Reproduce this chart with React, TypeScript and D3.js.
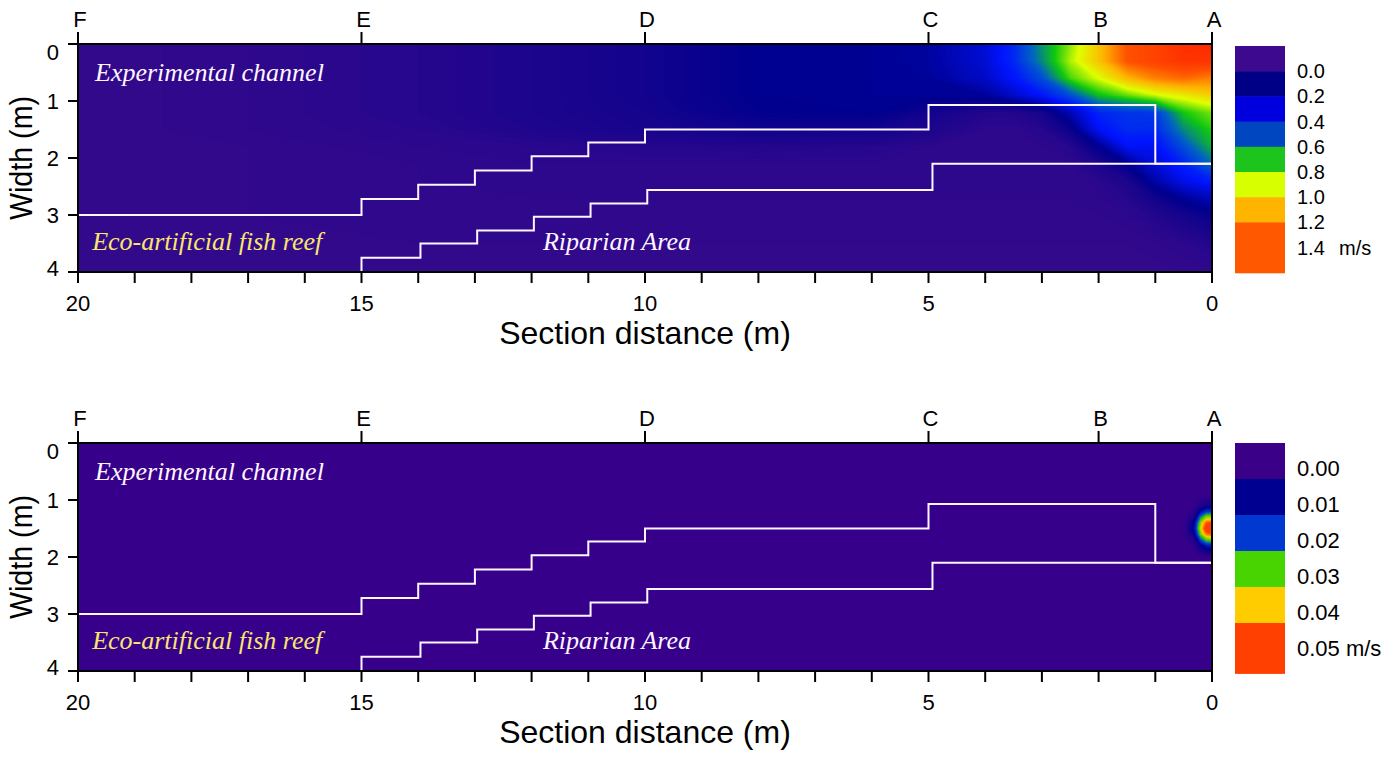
import React, { useMemo } from 'react';
import * as d3 from 'd3';

const WIDTH = 1393;
const HEIGHT = 767;
const PLOT_LEFT = 78;
const PLOT_RIGHT = 1212;
const PLOT_H = 228;
const SANS = 'Arial, "Liberation Sans", sans-serif';
const SERIF = '"Liberation Serif", "Times New Roman", serif';

// axes
const distTicks = [0, 1, 2, 3, 4, 5, 6, 7, 8, 9, 10, 11, 12, 13, 14, 15, 16, 17, 18, 19, 20];
const distLabels = [20, 15, 10, 5, 0];
const widthTicks = [0, 1, 2, 3, 4];
const sectionNames = ['F', 'E', 'D', 'C', 'B', 'A'];
const sectionDist = [20, 15, 10, 5, 2, 0];

// boundaries [distance, width], drawn as steps
const reefEdge: [number, number][] = [
  [20, 3.0], [15, 2.72], [14, 2.47], [13, 2.22], [12, 1.97], [11, 1.73],
  [10, 1.5], [5, 1.07], [1, 2.1], [0, 2.1],
];
const riparianEdge: [number, number][] = [
  [15, 4.0], [15, 3.75], [13.96, 3.5], [12.96, 3.27], [11.96, 3.03],
  [10.96, 2.8], [9.96, 2.56], [4.93, 2.1], [0, 2.1],
];

// upper panel: velocity (m/s) on a grid of distance x width
const topDist = [20, 17, 14, 12, 10, 8, 6, 5, 4, 3.5, 3, 2.5, 2, 1.5, 1, 0.5, 0];
const topWidth = [0, 0.3, 0.6, 0.9, 1.2, 1.5, 1.8, 2.1, 2.4, 2.7, 3.0, 3.5, 4];
const topVelocity = [
  [0.02, 0.04, 0.07, 0.10, 0.14, 0.20, 0.21, 0.23, 0.33, 0.45, 0.70, 0.92, 1.15, 1.40, 1.45, 1.52, 1.55],
  [0.02, 0.04, 0.07, 0.10, 0.14, 0.20, 0.21, 0.23, 0.32, 0.45, 0.68, 0.95, 1.15, 1.40, 1.45, 1.50, 1.50],
  [0.02, 0.04, 0.07, 0.10, 0.14, 0.20, 0.21, 0.22, 0.30, 0.40, 0.55, 0.85, 1.00, 1.18, 1.30, 1.35, 1.30],
  [0.02, 0.04, 0.07, 0.10, 0.14, 0.20, 0.21, 0.21, 0.22, 0.30, 0.40, 0.55, 0.78, 0.88, 0.98, 1.05, 1.12],
  [0.02, 0.04, 0.07, 0.10, 0.13, 0.19, 0.20, 0.14, 0.08, 0.08, 0.12, 0.27, 0.44, 0.48, 0.50, 0.80, 0.90],
  [0.02, 0.04, 0.06, 0.09, 0.12, 0.15, 0.14, 0.10, 0.05, 0.05, 0.07, 0.16, 0.38, 0.46, 0.45, 0.68, 0.82],
  [0.02, 0.03, 0.05, 0.06, 0.07, 0.08, 0.07, 0.05, 0.04, 0.04, 0.05, 0.07, 0.20, 0.38, 0.38, 0.55, 0.76],
  [0.02, 0.03, 0.04, 0.05, 0.05, 0.05, 0.05, 0.04, 0.04, 0.04, 0.04, 0.05, 0.10, 0.20, 0.33, 0.44, 0.62],
  [0.02, 0.03, 0.04, 0.04, 0.04, 0.04, 0.04, 0.04, 0.04, 0.04, 0.04, 0.04, 0.06, 0.10, 0.25, 0.36, 0.43],
  [0.02, 0.03, 0.03, 0.04, 0.04, 0.04, 0.04, 0.04, 0.04, 0.04, 0.04, 0.04, 0.05, 0.07, 0.14, 0.22, 0.28],
  [0.02, 0.03, 0.03, 0.03, 0.03, 0.03, 0.03, 0.03, 0.03, 0.03, 0.03, 0.03, 0.04, 0.05, 0.08, 0.13, 0.18],
  [0.02, 0.02, 0.03, 0.03, 0.03, 0.03, 0.03, 0.03, 0.03, 0.03, 0.03, 0.03, 0.03, 0.03, 0.04, 0.05, 0.08],
  [0.02, 0.02, 0.02, 0.02, 0.02, 0.02, 0.02, 0.02, 0.02, 0.02, 0.02, 0.02, 0.02, 0.02, 0.02, 0.03, 0.04],
];
const topStops = [0, 0.2, 0.4, 0.6, 0.8, 1.0, 1.2, 1.4, 1.6];
const topRamp = ['#3a0a8c', '#00008e', '#0014ff', '#0060c8', '#10c810', '#e0ff00', '#ffb000', '#ff5000', '#ff1800'];
const topLegendLabels = ['0.0', '0.2', '0.4', '0.6', '0.8', '1.0', '1.2', '1.4'];
const topLegendColors = ['#3d0a8f', '#000086', '#0000de', '#0046c0', '#1ec41e', '#d8ff00', '#ffb400', '#ff5800'];

// lower panel
const botDist = [20, 2, 0.8, 0.6, 0.45, 0.3, 0.2, 0.1, 0];
const botWidth = [0, 0.9, 1.1, 1.2, 1.3, 1.4, 1.5, 1.6, 1.7, 1.8, 2.0, 4];
const botVelocity = [
  [0, 0, 0, 0, 0, 0, 0, 0, 0],
  [0, 0, 0, 0, 0, 0, 0, 0, 0],
  [0, 0, 0, 0, 0, 0.001, 0.004, 0.006, 0.006],
  [0, 0, 0, 0, 0, 0.003, 0.012, 0.018, 0.018],
  [0, 0, 0, 0, 0.001, 0.006, 0.024, 0.034, 0.034],
  [0, 0, 0, 0, 0.002, 0.012, 0.034, 0.048, 0.050],
  [0, 0, 0, 0, 0.002, 0.014, 0.038, 0.055, 0.056],
  [0, 0, 0, 0, 0.002, 0.010, 0.032, 0.046, 0.048],
  [0, 0, 0, 0, 0.001, 0.004, 0.020, 0.030, 0.032],
  [0, 0, 0, 0, 0, 0.002, 0.009, 0.014, 0.015],
  [0, 0, 0, 0, 0, 0, 0, 0, 0],
  [0, 0, 0, 0, 0, 0, 0, 0, 0],
];
const botStops = [0, 0.01, 0.02, 0.03, 0.04, 0.05];
const botRamp = ['#38008a', '#000090', '#0040e0', '#40d000', '#ffd000', '#ff4000'];
const botLegendLabels = ['0.00', '0.01', '0.02', '0.03', '0.04', '0.05 m/s'];
const botLegendColors = ['#3a0088', '#000090', '#0038d0', '#48d400', '#ffcc00', '#ff4000'];

type PanelProps = {
  top: number;
  id: string;
  dist: number[];
  width: number[];
  values: number[][];
  step: number;
  max: number;
  stops: number[];
  ramp: string[];
  legendLabels: string[];
  legendColors: string[];
  legendTop: number;
  legendSlot: number;
  legendSlots: number;
  labelShift: number;
  legendFont: number;
  unitX?: number;
};

const Panel: React.FC<PanelProps> = (p) => {
  const x = d3.scaleLinear().domain([20, 0]).range([PLOT_LEFT, PLOT_RIGHT]);
  const y = d3.scaleLinear().domain([0, 4]).range([p.top, p.top + PLOT_H]);
  const color = d3.scaleLinear<string>().domain(p.stops).range(p.ramp).clamp(true);

  // filled contours on the measuring grid, mapped back to metres
  const bands = useMemo(() => {
    const nx = p.dist.length;
    const ny = p.width.length;
    const col = d3
      .scaleLinear()
      .domain([0, ...p.dist.map((_, i) => i + 0.5), nx])
      .range([p.dist[0], ...p.dist, p.dist[nx - 1]]);
    const row = d3
      .scaleLinear()
      .domain([0, ...p.width.map((_, j) => j + 0.5), ny])
      .range([p.width[0], ...p.width, p.width[ny - 1]]);
    const proj = d3.geoTransform({
      point(px: number, py: number) {
        (this as any).stream.point(x(col(px)), y(row(py)));
      },
    });
    const path = d3.geoPath(proj);
    const thresholds = d3.range(0, p.max, p.step);
    return d3
      .contours()
      .size([nx, ny])
      .thresholds(thresholds)(p.values.flat())
      .map((c) => ({ d: path(c as any) || '', fill: color(c.value + p.step / 2) }));
  }, [p.top]);

  const step = d3.line<[number, number]>()
    .x((d) => x(d[0]))
    .y((d) => y(d[1]))
    .curve(d3.curveStepAfter);

  const bottom = p.top + PLOT_H;
  const n = p.legendColors.length;
  const legendBottom = p.legendTop + p.legendSlot * p.legendSlots;

  return (
    <g fontFamily={SANS}>
      <defs>
        <clipPath id={`clip-${p.id}`}>
          <rect x={PLOT_LEFT} y={p.top} width={PLOT_RIGHT - PLOT_LEFT} height={PLOT_H} />
        </clipPath>
      </defs>
      <g clipPath={`url(#clip-${p.id})`}>
        <rect x={PLOT_LEFT} y={p.top} width={PLOT_RIGHT - PLOT_LEFT} height={PLOT_H} fill={color(0)} />
        {bands.map((b, i) => (
          <path key={i} d={b.d} fill={b.fill} />
        ))}
        <path d={step(reefEdge) || ''} fill="none" stroke="#fff6ff" strokeWidth={2} />
        <path d={step(riparianEdge) || ''} fill="none" stroke="#fff6ff" strokeWidth={2} />
      </g>

      <text x={x(19.7)} y={y(0.65)} fill="#fff6ff" fontFamily={SERIF} fontStyle="italic" fontSize={26}>
        Experimental channel
      </text>
      <text x={x(19.75)} y={y(3.62)} fill="#f8e66e" fontFamily={SERIF} fontStyle="italic" fontSize={26}>
        Eco-artificial fish reef
      </text>
      <text x={x(11.8)} y={y(3.62)} fill="#fff6ff" fontFamily={SERIF} fontStyle="italic" fontSize={26}>
        Riparian Area
      </text>

      <rect x={PLOT_LEFT} y={p.top} width={PLOT_RIGHT - PLOT_LEFT} height={PLOT_H} fill="none" stroke="#000" strokeWidth={2} />

      {/* bottom axis */}
      {distTicks.map((t) => (
        <line key={t} x1={x(t)} x2={x(t)} y1={bottom} y2={bottom + 11} stroke="#000" strokeWidth={2} />
      ))}
      {distLabels.map((t) => (
        <text key={t} x={x(t)} y={bottom + 39} textAnchor="middle" fontSize={22}>
          {t}
        </text>
      ))}
      <text x={(PLOT_LEFT + PLOT_RIGHT) / 2} y={bottom + 72} textAnchor="middle" fontSize={32}>
        Section distance (m)
      </text>

      {/* top axis: sections */}
      {sectionDist.map((t, i) => (
        <g key={t}>
          <line x1={x(t)} x2={x(t)} y1={p.top - 12} y2={p.top} stroke="#000" strokeWidth={2} />
          <text x={x(t) + 2} y={p.top - 17} textAnchor="middle" fontSize={22}>
            {sectionNames[i]}
          </text>
        </g>
      ))}

      {/* left axis */}
      {widthTicks.map((t, i) => (
        <g key={t}>
          <line x1={PLOT_LEFT - 10} x2={PLOT_LEFT} y1={y(t)} y2={y(t)} stroke="#000" strokeWidth={2} />
          <text
            x={59}
            y={y(t) + (i === 0 ? 8 : i === widthTicks.length - 1 ? -4 : 0)}
            dy="0.35em"
            textAnchor="end"
            fontSize={22}
          >
            {t}
          </text>
        </g>
      ))}
      <text
        transform={`translate(32,${p.top + PLOT_H / 2}) rotate(-90)`}
        textAnchor="middle"
        fontSize={31}
        textLength={124}
        lengthAdjust="spacingAndGlyphs"
      >
        Width (m)
      </text>

      {/* legend */}
      {p.legendColors.map((c, i) => (
        <rect
          key={i}
          x={1235}
          y={p.legendTop + i * p.legendSlot}
          width={50}
          height={(i === n - 1 ? legendBottom - p.legendTop - i * p.legendSlot : p.legendSlot) + 0.5}
          fill={c}
        />
      ))}
      {p.legendLabels.map((l, i) => (
        <text
          key={l}
          x={1297}
          y={p.legendTop + i * p.legendSlot + p.labelShift}
          dy="0.35em"
          fontSize={p.legendFont}
        >
          {l}
        </text>
      ))}
      {p.unitX !== undefined && (
        <text
          x={p.unitX}
          y={p.legendTop + (n - 1) * p.legendSlot + p.labelShift}
          dy="0.35em"
          fontSize={p.legendFont}
        >
          m/s
        </text>
      )}
    </g>
  );
};

export default function App() {
  return (
    <svg
      width={WIDTH}
      height={HEIGHT}
      viewBox={`0 0 ${WIDTH} ${HEIGHT}`}
      style={{ position: 'absolute', left: 0, top: 0, background: '#fff' }}
    >
      <Panel
        id="top"
        top={44}
        dist={topDist}
        width={topWidth}
        values={topVelocity}
        step={0.01}
        max={1.6}
        stops={topStops}
        ramp={topRamp}
        legendLabels={topLegendLabels}
        legendColors={topLegendColors}
        legendTop={46}
        legendSlot={25.2}
        legendSlots={9}
        labelShift={25.2}
        legendFont={20}
        unitX={1339}
      />
      <Panel
        id="bot"
        top={443}
        dist={botDist}
        width={botWidth}
        values={botVelocity}
        step={0.0005}
        max={0.058}
        stops={botStops}
        ramp={botRamp}
        legendLabels={botLegendLabels}
        legendColors={botLegendColors}
        legendTop={443}
        legendSlot={36}
        legendSlots={6.4}
        labelShift={25}
        legendFont={22}
      />
    </svg>
  );
}
